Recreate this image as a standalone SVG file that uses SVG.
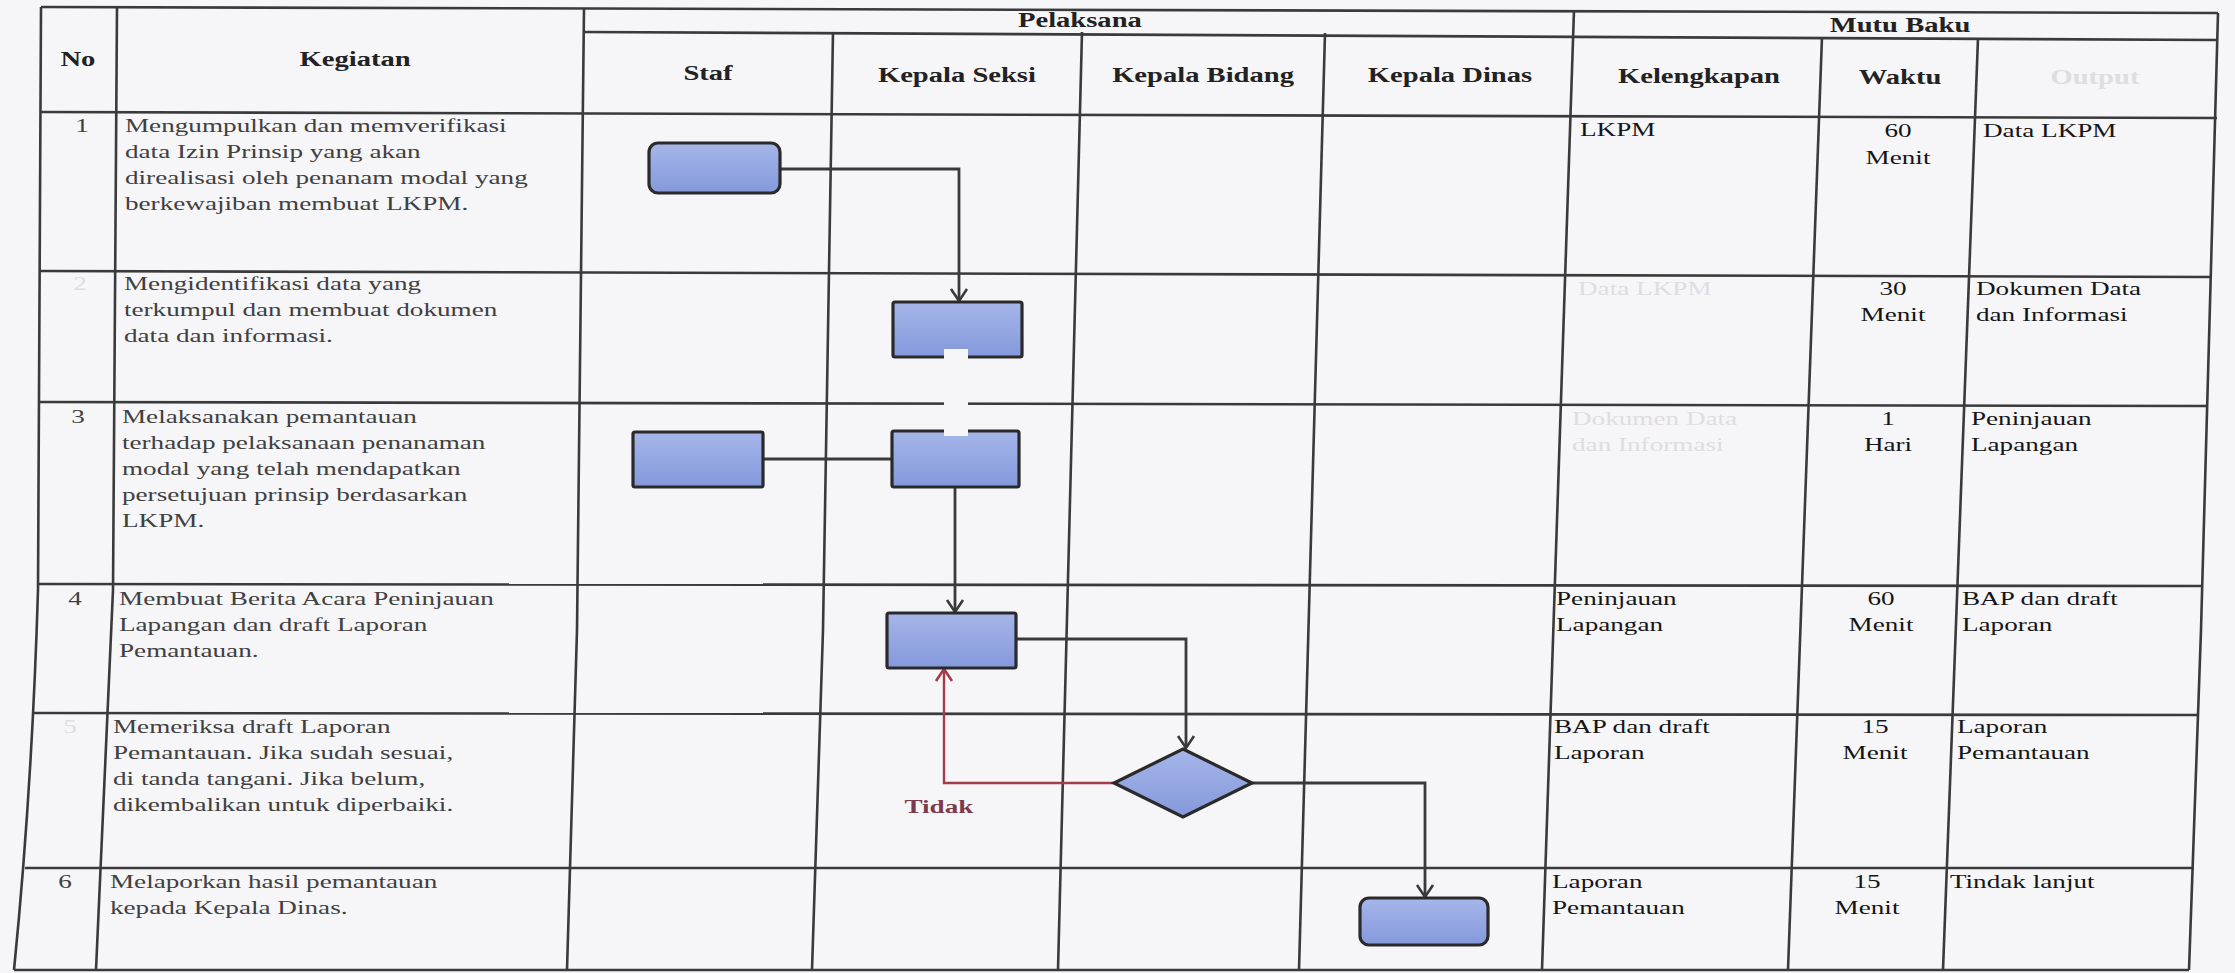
<svg xmlns="http://www.w3.org/2000/svg" width="2235" height="973" viewBox="0 0 2235 973">
<style>
.grid{fill:none;stroke:#3a3a3a;stroke-width:2.6;stroke-linejoin:round}
.hd{font-family:"Liberation Serif","Times New Roman",serif;font-size:20px;font-weight:bold;fill:#222;text-anchor:middle}
.tx{font-family:"Liberation Serif","Times New Roman",serif;font-size:19px;fill:#404040}
.rt{font-family:"Liberation Serif","Times New Roman",serif;font-size:19px;fill:#151515}
.ct{text-anchor:middle}
.faint{fill:#dedde2}
.box{fill:url(#bf);stroke:#2a2a2a;stroke-width:3.2}
.con{fill:none;stroke:#3a3a3a;stroke-width:2.8}
.red{fill:none;stroke:#a53c4a;stroke-width:2.4}
.lbl{font-family:"Liberation Serif","Times New Roman",serif;font-size:19px;font-weight:bold;fill:#7d3a4c;text-anchor:middle}
</style>
<defs>
<linearGradient id="bf" x1="0" y1="0" x2="0" y2="1">
<stop offset="0" stop-color="#a6b6ea"/>
<stop offset="1" stop-color="#8499dc"/>
</linearGradient>
<marker id="ah" markerUnits="userSpaceOnUse" markerWidth="16" markerHeight="20" viewBox="0 0 16 20" refX="13" refY="10" orient="auto">
<path d="M1,2 L13,10 L1,18" fill="none" stroke="#3a3a3a" stroke-width="2.6"/>
</marker>
<marker id="ahr" markerUnits="userSpaceOnUse" markerWidth="16" markerHeight="20" viewBox="0 0 16 20" refX="13" refY="10" orient="auto">
<path d="M1,2 L13,10 L1,18" fill="none" stroke="#a53c4a" stroke-width="2.6"/>
</marker>
</defs>
<rect width="2235" height="973" fill="#f6f5f8"/>
<g id="table" class="grid">
<path d="M41,7 L38,590 Q32,790 14,970"/>
<path d="M117,7 L113,590 L96,970"/>
<path d="M584,8 L577,630 L567,970"/>
<path d="M833,32 L823,630 L812,970"/>
<path d="M1082,32 L1058,970"/>
<path d="M1325,33 L1299,970"/>
<path d="M1574,10 L1542,970"/>
<path d="M1822,37 L1788,970"/>
<path d="M1978,38 L1943,970"/>
<path d="M2218,13 L2201,630 L2189,970"/>
<path d="M41,7 L2218,13"/>
<path d="M584,32 L2218,40"/>
<path d="M41,112 L2217,118"/>
<path d="M40,271 L2212,277"/>
<path d="M39,402 L2208,406"/>
<path d="M38,584 L2203,586"/>
<path d="M33,713 L2199,715"/>
<path d="M25,868 L2194,868"/>
<path d="M14,970 L2189,970"/>
</g>
<g id="texts" transform="scale(1.43 1)">
<text class="hd" x="54.5" y="66">No</text>
<text class="hd" x="248.3" y="66">Kegiatan</text>
<text class="hd" x="755.2" y="27">Pelaksana</text>
<text class="hd" x="495.1" y="80">Staf</text>
<text class="hd" x="669.2" y="82">Kepala Seksi</text>
<text class="hd" x="841.3" y="82">Kepala Bidang</text>
<text class="hd" x="1014" y="82">Kepala Dinas</text>
<text class="hd" x="1328.7" y="32">Mutu Baku</text>
<text class="hd" x="1188.1" y="83">Kelengkapan</text>
<text class="hd" x="1328.7" y="84">Waktu</text>
<text class="hd faint" x="1465" y="84">Output</text>

<text class="tx ct" x="57.3" y="132">1</text>
<text class="tx ct faint" x="55.9" y="290">2</text>
<text class="tx ct" x="54.5" y="423">3</text>
<text class="tx ct" x="52.5" y="605">4</text>
<text class="tx ct faint" x="49" y="733">5</text>
<text class="tx ct" x="45.5" y="888">6</text>

<text class="tx" x="87.4" y="132">Mengumpulkan dan memverifikasi</text>
<text class="tx" x="87.4" y="158">data Izin Prinsip yang akan</text>
<text class="tx" x="87.4" y="184">direalisasi oleh penanam modal yang</text>
<text class="tx" x="87.4" y="210">berkewajiban membuat LKPM.</text>

<text class="tx" x="86.7" y="290">Mengidentifikasi data yang</text>
<text class="tx" x="86.7" y="316">terkumpul dan membuat dokumen</text>
<text class="tx" x="86.7" y="342">data dan informasi.</text>

<text class="tx" x="85.3" y="423">Melaksanakan pemantauan</text>
<text class="tx" x="85.3" y="449">terhadap pelaksanaan penanaman</text>
<text class="tx" x="85.3" y="475">modal yang telah mendapatkan</text>
<text class="tx" x="85.3" y="501">persetujuan prinsip berdasarkan</text>
<text class="tx" x="85.3" y="527">LKPM.</text>

<text class="tx" x="83.2" y="605">Membuat Berita Acara Peninjauan</text>
<text class="tx" x="83.2" y="631">Lapangan dan draft Laporan</text>
<text class="tx" x="83.2" y="657">Pemantauan.</text>

<text class="tx" x="79" y="733">Memeriksa draft Laporan</text>
<text class="tx" x="79" y="759">Pemantauan. Jika sudah sesuai,</text>
<text class="tx" x="79" y="785">di tanda tangani. Jika belum,</text>
<text class="tx" x="79" y="811">dikembalikan untuk diperbaiki.</text>

<text class="tx" x="76.9" y="888">Melaporkan hasil pemantauan</text>
<text class="tx" x="76.9" y="914">kepada Kepala Dinas.</text>

<text class="rt" x="1104.9" y="136">LKPM</text>
<text class="rt ct" x="1327.3" y="137">60</text>
<text class="rt ct" x="1327.3" y="164">Menit</text>
<text class="rt" x="1386.7" y="137">Data LKPM</text>

<text class="rt faint" x="1103.5" y="295">Data LKPM</text>
<text class="rt ct" x="1323.8" y="295">30</text>
<text class="rt ct" x="1323.8" y="321">Menit</text>
<text class="rt" x="1381.8" y="295">Dokumen Data</text>
<text class="rt" x="1381.8" y="321">dan Informasi</text>

<text class="rt faint" x="1099.3" y="425">Dokumen Data</text>
<text class="rt faint" x="1099.3" y="451">dan Informasi</text>
<text class="rt ct" x="1320.3" y="425">1</text>
<text class="rt ct" x="1320.3" y="451">Hari</text>
<text class="rt" x="1378.3" y="425">Peninjauan</text>
<text class="rt" x="1378.3" y="451">Lapangan</text>

<text class="rt" x="1088.1" y="605">Peninjauan</text>
<text class="rt" x="1088.1" y="631">Lapangan</text>
<text class="rt ct" x="1315.4" y="605">60</text>
<text class="rt ct" x="1315.4" y="631">Menit</text>
<text class="rt" x="1372" y="605">BAP dan draft</text>
<text class="rt" x="1372" y="631">Laporan</text>

<text class="rt" x="1086.7" y="733">BAP dan draft</text>
<text class="rt" x="1086.7" y="759">Laporan</text>
<text class="rt ct" x="1311.2" y="733">15</text>
<text class="rt ct" x="1311.2" y="759">Menit</text>
<text class="rt" x="1368.5" y="733">Laporan</text>
<text class="rt" x="1368.5" y="759">Pemantauan</text>

<text class="rt" x="1085.3" y="888">Laporan</text>
<text class="rt" x="1085.3" y="914">Pemantauan</text>
<text class="rt ct" x="1305.6" y="888">15</text>
<text class="rt ct" x="1305.6" y="914">Menit</text>
<text class="rt" x="1363.6" y="888">Tindak lanjut</text>

<text class="lbl" x="656.6" y="813">Tidak</text>
</g>
<g id="connectors">
<path class="con" d="M780,169 L959,169 L959,301" marker-end="url(#ah)"/>
<path class="con" d="M763,459 L892,459"/>
<path class="con" d="M955,487 L955,612" marker-end="url(#ah)"/>
<path class="con" d="M1016,639 L1186,639 L1186,748" marker-end="url(#ah)"/>
<path class="red" d="M1114,783 L944,783 L944,669" marker-end="url(#ahr)"/>
<path class="con" d="M1252,783 L1425,783 L1425,897" marker-end="url(#ah)"/>
</g>
<g id="n1"><rect class="box" x="649" y="143" width="131" height="50" rx="9"/></g>
<g id="n2"><rect class="box" x="893" y="302" width="129" height="55" rx="2"/></g>
<g id="n3a"><rect class="box" x="633" y="432" width="130" height="55" rx="2"/></g>
<g id="n3b"><rect class="box" x="892" y="431" width="127" height="56" rx="2"/></g>
<g id="n4"><rect class="box" x="887" y="613" width="129" height="55" rx="2"/></g>
<g id="n5"><polygon class="box" points="1183,749 1252,783 1183,817 1114,783"/></g>
<g id="n6"><rect class="box" x="1360" y="898" width="128" height="47" rx="9"/></g>
<rect x="944" y="349" width="24" height="87" fill="#f6f5f8"/>
</svg>
